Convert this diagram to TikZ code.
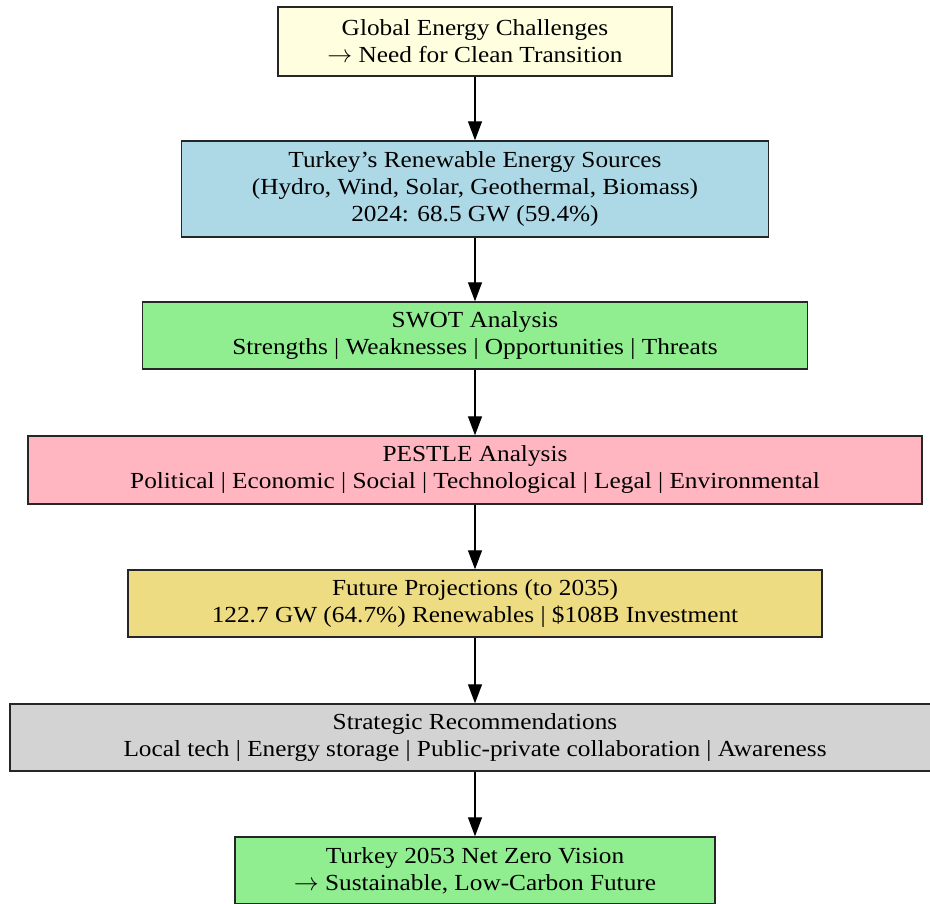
\documentclass[tikz,border=0pt]{standalone}
\usepackage{fontspec}
\setmainfont{Liberation Serif}[FakeStretch=1.1]
\usetikzlibrary{arrows.meta}
\tikzset {>={Triangle[length=19pt,width=14pt]}}

\definecolor{paleyellow}{HTML}{FFFFE0}
\definecolor{paleblue}{HTML}{ADD8E6}
\definecolor{palegreen}{HTML}{90EE90}
\definecolor{palepink}{HTML}{FFB6C1}
\definecolor{palegold}{HTML}{EEDC82}
\definecolor{palegray}{HTML}{D3D3D3}

\tikzset{
  stage/.style={draw=black!85, line width=1.4pt, align=center,
    inner sep=0pt, minimum height=67pt,
    font=\fontsize{23}{27}\selectfont},
  flow/.style={->, line width=1.3pt}
}

\begin{document}
\begin{tikzpicture}[x=1pt,y=1pt]
\useasboundingbox (0,0) rectangle (930,-904);
\node[stage,fill=paleyellow,minimum width=394pt,minimum height=69pt] (global) at (475,-41.5)
  {Global Energy Challenges\\$\rightarrow$ Need for Clean Transition};
\node[stage,fill=paleblue,minimum width=587pt,minimum height=96pt] (sources) at (475,-189)
  {Turkey’s Renewable Energy Sources\\(Hydro, Wind, Solar, Geothermal, Biomass)\\2024: 68.5 GW (59.4\%)};
\node[stage,fill=palegreen,minimum width=665pt] (swot) at (475,-335.5)
  {SWOT Analysis\\Strengths | Weaknesses | Opportunities | Threats};
\node[stage,fill=palepink,minimum width=894pt,minimum height=68pt] (pestle) at (475,-470)
  {PESTLE Analysis\\Political | Economic | Social | Technological | Legal | Environmental};
\node[stage,fill=palegold,minimum width=694pt] (future) at (475,-603.5)
  {Future Projections (to 2035)\\122.7 GW (64.7\%) Renewables | \$108B Investment};
\node[stage,fill=palegray,minimum width=930pt] (strategy) at (475,-737.5)
  {Strategic Recommendations\\Local tech | Energy storage | Public-private collaboration | Awareness};
\node[stage,fill=palegreen,minimum width=480pt] (vision) at (475,-870.5)
  {Turkey 2053 Net Zero Vision\\$\rightarrow$ Sustainable, Low-Carbon Future};

\draw[flow] (global)   -- (sources);
\draw[flow] (sources)  -- (swot);
\draw[flow] (swot)     -- (pestle);
\draw[flow] (pestle)   -- (future);
\draw[flow] (future)   -- (strategy);
\draw[flow] (strategy) -- (vision);
\end{tikzpicture}
\end{document}
